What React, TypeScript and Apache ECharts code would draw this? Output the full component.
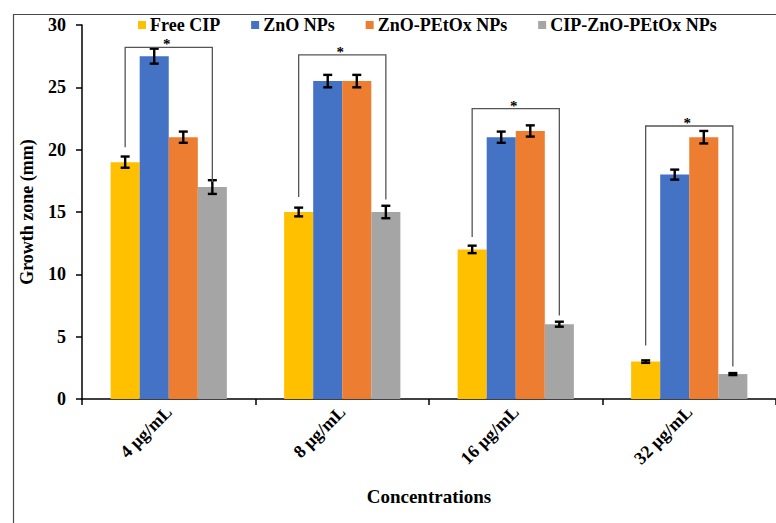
import { useEffect, useRef } from "react";
import * as echarts from "echarts";

const categories = ["4 µg/mL", "8 µg/mL", "16 µg/mL", "32 µg/mL"];
const seriesNames = ["Free CIP", "ZnO NPs", "ZnO-PEtOx NPs", "CIP-ZnO-PEtOx NPs"];
const seriesColors = ["#FFC000", "#4472C4", "#ED7D31", "#A5A5A5"];

const freeCip = [19, 15, 12, 3];
const znoNps = [27.5, 25.5, 21, 18];
const znoPetox = [21, 25.5, 21.5, 21];
const cipZnoPetox = [17, 15, 6, 2];

const freeCipErr = [0.45, 0.35, 0.3, 0.1];
const znoNpsErr = [0.6, 0.5, 0.45, 0.4];
const znoPetoxErr = [0.45, 0.5, 0.45, 0.5];
const cipZnoPetoxErr = [0.55, 0.5, 0.2, 0.08];

// significance brackets: top level, left leg end, right leg end (mm)
const bracketTop = [28.2, 27.6, 23.3, 21.9];
const bracketLeftEnd = [20.2, 16.2, 13.0, 4.3];
const bracketRightEnd = [17.4, 16.0, 6.7, 2.6];

const yMin = 0;
const yMax = 30;
const yStep = 5;

const FONT = "'Liberation Serif', 'Times New Roman', Times, serif";
const CATEGORY_GAP = 0.33;

export default function App() {
  const ref = useRef<HTMLDivElement>(null);

  useEffect(() => {
    if (!ref.current) return;
    const chart = echarts.init(ref.current, null, { renderer: "svg" });

    const values = [freeCip, znoNps, znoPetox, cipZnoPetox];
    const errors = [freeCipErr, znoNpsErr, znoPetoxErr, cipZnoPetoxErr];

    const errData: number[][] = [];
    values.forEach((arr, s) =>
      arr.forEach((v, c) => errData.push([c, v, s, errors[s][c]]))
    );
    const bracketData = categories.map((_, c) => [
      c,
      bracketTop[c],
      bracketLeftEnd[c],
      bracketRightEnd[c],
    ]);

    const barSlot = (api: any) => {
      const band = api.size([1, 0])[0];
      return (band * (1 - CATEGORY_GAP)) / 4;
    };

    const option: any = {
      animation: false,
      backgroundColor: "#ffffff",
      textStyle: { fontFamily: FONT },
      graphic: [
        {
          type: "rect",
          left: 11,
          top: 12,
          shape: { width: 900, height: 700 },
          style: { fill: "none", stroke: "#4a4a4a", lineWidth: 1.2 },
          silent: true,
          z: -10,
        },
      ],
      legend: {
        data: seriesNames,
        left: 138,
        top: 16,
        padding: 0,
        itemWidth: 8,
        itemHeight: 8,
        itemGap: 31,
        icon: "rect",
        textStyle: {
          fontFamily: FONT,
          fontWeight: "bold",
          fontSize: 18,
          lineHeight: 18,
          color: "#000",
          padding: [0, 0, 0, -1],
        },
      },
      grid: { left: 82, right: 0, top: 25, bottom: 124, containLabel: false },
      xAxis: {
        type: "category",
        data: categories,
        name: "Concentrations",
        nameLocation: "middle",
        nameGap: 88,
        nameTextStyle: {
          fontFamily: FONT,
          fontWeight: "bold",
          fontSize: 19,
          color: "#000",
        },
        axisLine: { lineStyle: { color: "#000", width: 1.5 } },
        axisTick: { show: true, length: 6, lineStyle: { color: "#000", width: 1.5 } },
        axisLabel: {
          rotate: 45,
          margin: 10,
          fontFamily: FONT,
          fontWeight: "bold",
          fontSize: 18,
          color: "#000",
        },
      },
      yAxis: {
        type: "value",
        min: yMin,
        max: yMax,
        interval: yStep,
        name: "Growth zone (mm)",
        nameLocation: "middle",
        nameGap: 46,
        nameTextStyle: {
          fontFamily: FONT,
          fontWeight: "bold",
          fontSize: 18,
          color: "#000",
        },
        axisLine: { show: true, lineStyle: { color: "#000", width: 1.5 } },
        axisTick: { show: true, length: 6, lineStyle: { color: "#000", width: 1.5 } },
        splitLine: { show: false },
        axisLabel: {
          margin: 16,
          fontFamily: FONT,
          fontWeight: "bold",
          fontSize: 18,
          color: "#000",
        },
      },
      series: [
        ...values.map((arr, s) => ({
          type: "bar",
          name: seriesNames[s],
          data: arr,
          itemStyle: { color: seriesColors[s] },
          barGap: "0%",
          barCategoryGap: "33%",
        })),
        {
          type: "custom",
          name: "errors",
          data: errData,
          encode: { x: 0, y: 1 },
          z: 5,
          silent: true,
          renderItem: (params: any, api: any) => {
            const c = api.value(0);
            const v = api.value(1);
            const s = api.value(2);
            const e = api.value(3);
            const w = barSlot(api);
            const cx = api.coord([c, v])[0] + (s - 1.5) * w;
            const yHi = api.coord([c, v + e])[1];
            const yLo = api.coord([c, v - e])[1];
            const half = 4.5;
            const style = { stroke: "#000", lineWidth: 2.4 };
            return {
              type: "group",
              children: [
                { type: "line", shape: { x1: cx, y1: yHi, x2: cx, y2: yLo }, style },
                { type: "line", shape: { x1: cx - half, y1: yHi, x2: cx + half, y2: yHi }, style },
                { type: "line", shape: { x1: cx - half, y1: yLo, x2: cx + half, y2: yLo }, style },
              ],
            };
          },
        },
        {
          type: "custom",
          name: "brackets",
          data: bracketData,
          encode: { x: 0, y: [1, 2, 3] },
          z: 6,
          silent: true,
          renderItem: (params: any, api: any) => {
            const c = api.value(0);
            const top = api.value(1);
            const lEnd = api.value(2);
            const rEnd = api.value(3);
            const w = barSlot(api);
            const center = api.coord([c, top]);
            const lx = center[0] - 1.5 * w;
            const rx = center[0] + 1.5 * w;
            const ty = center[1];
            const ly = api.coord([c, lEnd])[1];
            const ry = api.coord([c, rEnd])[1];
            return {
              type: "group",
              children: [
                {
                  type: "polyline",
                  shape: {
                    points: [
                      [lx, ly],
                      [lx, ty],
                      [rx, ty],
                      [rx, ry],
                    ],
                  },
                  style: { stroke: "#555555", lineWidth: 1.3, fill: "none" },
                },
                {
                  type: "text",
                  x: center[0] - 2,
                  y: ty + 1,
                  style: {
                    text: "*",
                    fontFamily: FONT,
                    fontWeight: "bold",
                    fontSize: 15,
                    lineHeight: 8,
                    fill: "#000",
                    align: "center",
                    verticalAlign: "bottom",
                  },
                },
              ],
            };
          },
        },
      ],
    };

    chart.setOption(option);
    return () => chart.dispose();
  }, []);

  return (
    <div
      ref={ref}
      style={{ position: "fixed", left: 0, top: 0, width: 776, height: 523 }}
    />
  );
}
